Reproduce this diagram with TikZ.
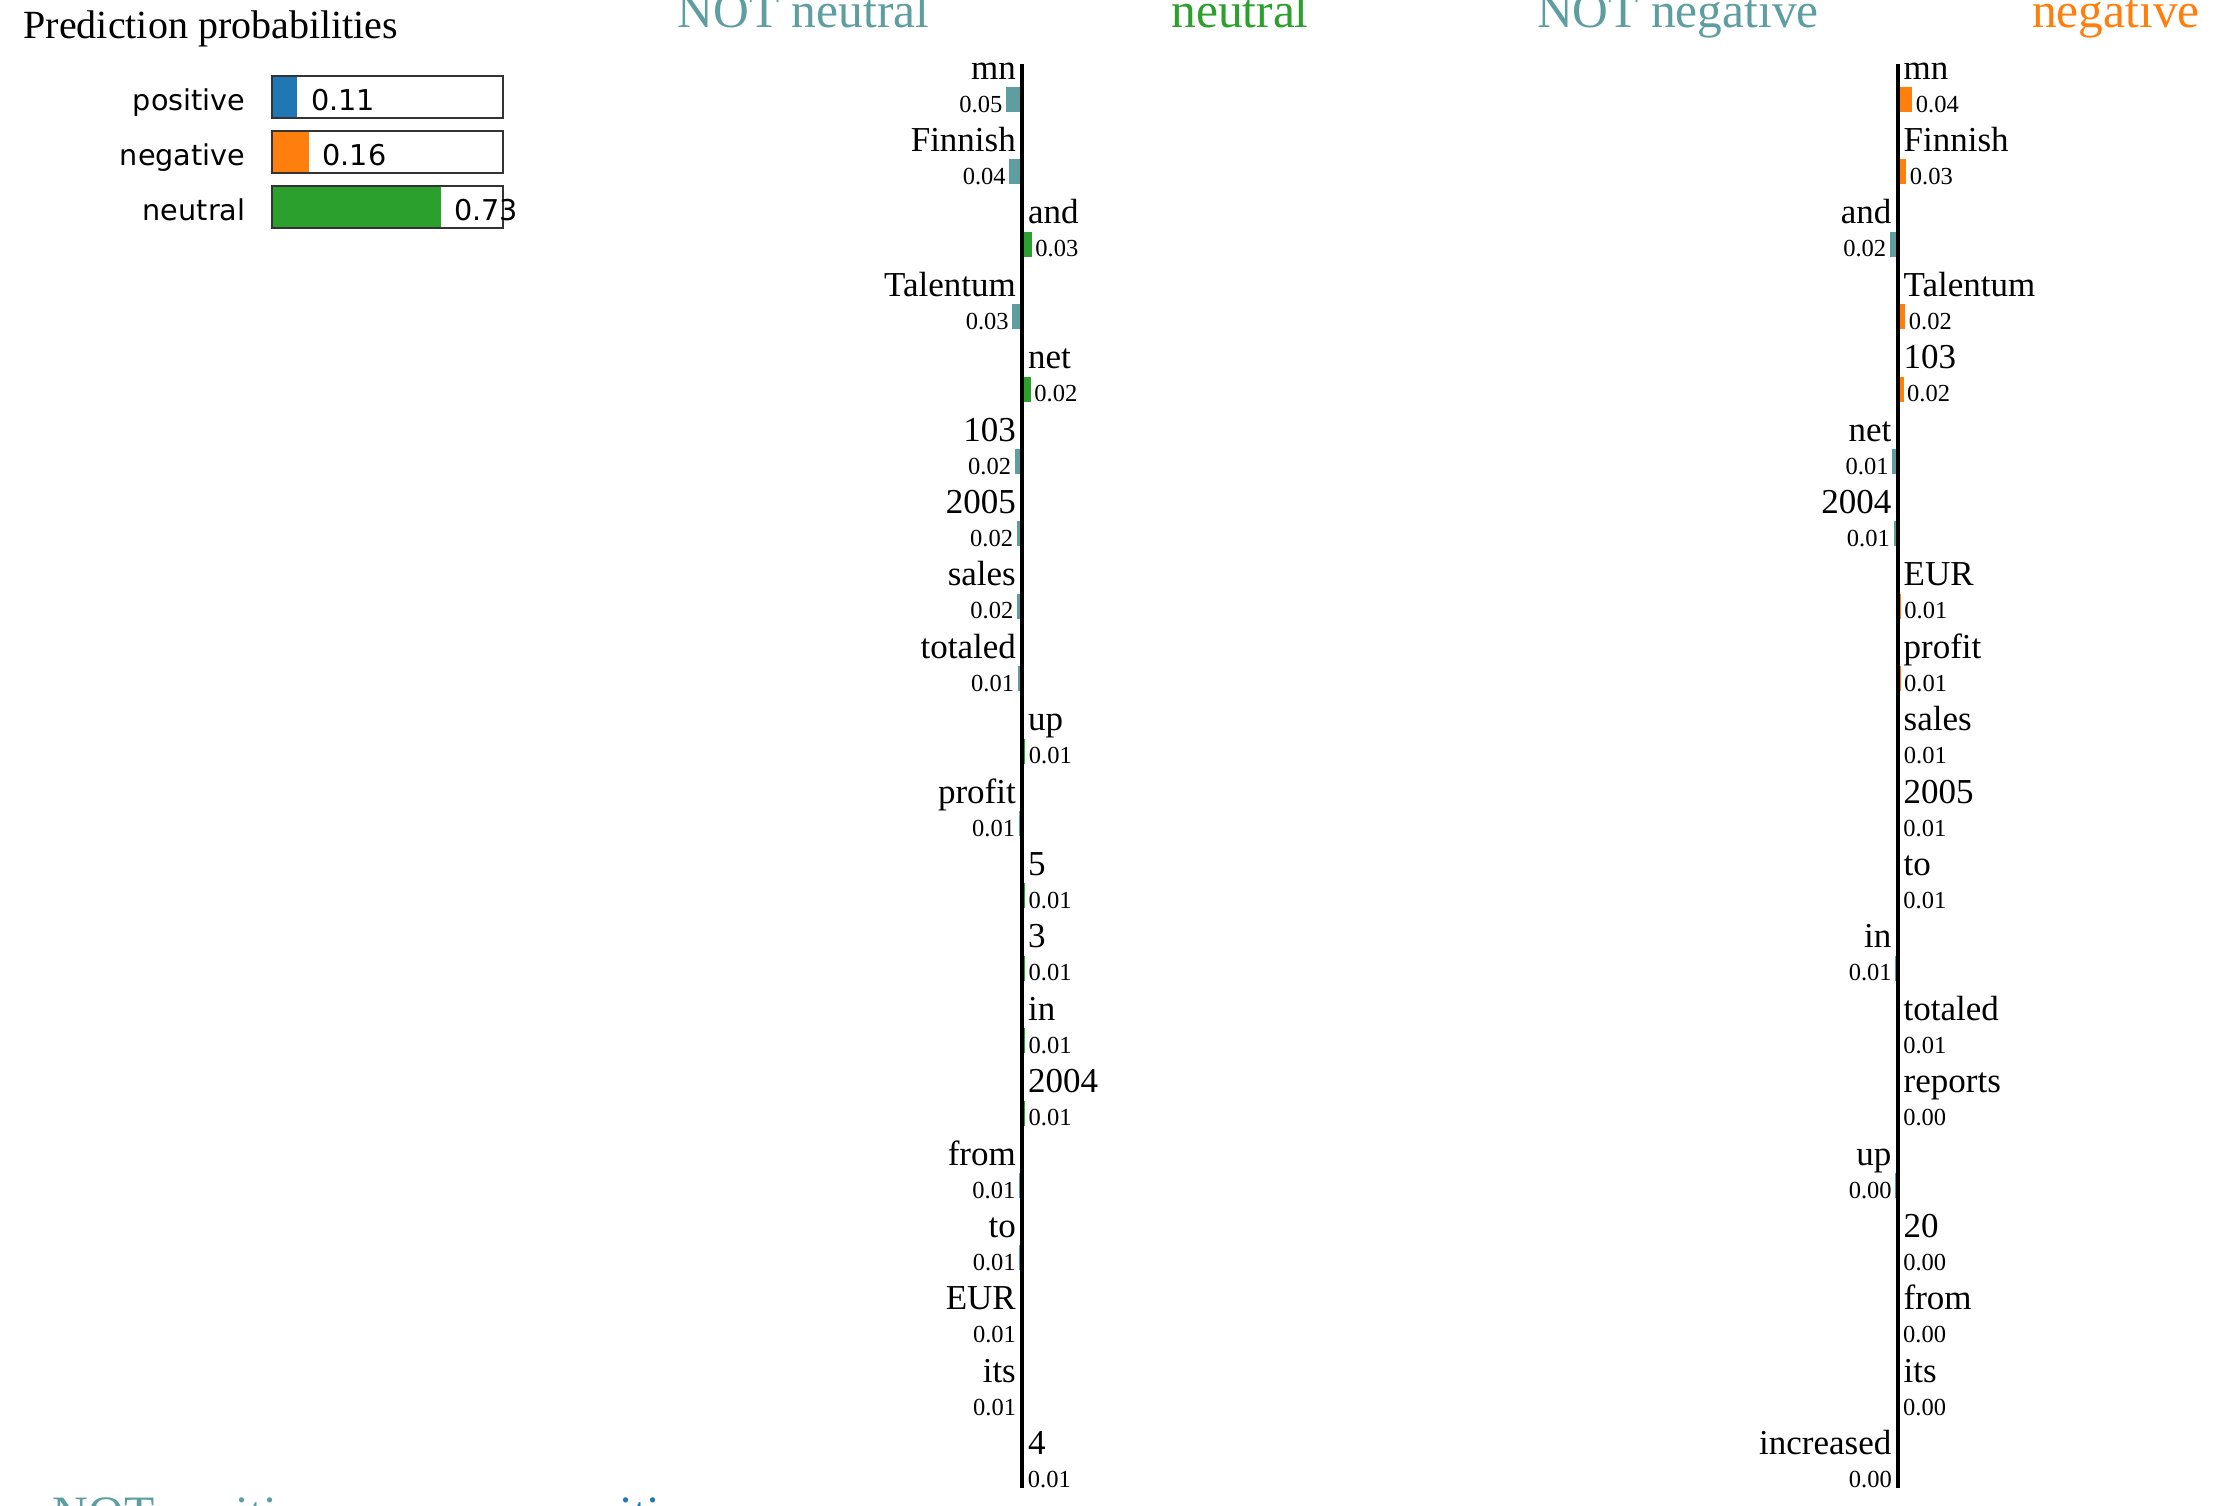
\documentclass[tikz,border=0pt]{standalone}
\usepackage{fontspec}
\setmainfont{Liberation Serif}
\newfontfamily\probfont{DejaVu Sans}
\usetikzlibrary{positioning}
\definecolor{notclr}{HTML}{5F9EA0}
\definecolor{posclr}{HTML}{1F77B4}
\definecolor{negclr}{HTML}{FF7F0E}
\definecolor{neuclr}{HTML}{2CA02C}

\begin{document}
\begin{tikzpicture}[x=0.3pt, y=-0.3pt]
\tikzstyle{head} = [inner sep=0, anchor=base, font=\fontsize{14.85}{16}\selectfont]
\tikzstyle{word} = [inner sep=0, font=\fontsize{10.5}{12}\selectfont]
\tikzstyle{weight} = [inner sep=0, font=\fontsize{7.35}{8}\selectfont]
\tikzstyle{probtext} = [inner sep=0, font=\probfont\fontsize{8.6}{10}\selectfont]
\tikzstyle{probbox} = [draw=black!80, line width=0.8pt]
\tikzstyle{axis} = [line width=1.2pt]
\clip (0,0) rectangle (2230,1505);

% prediction probabilities
\node[anchor=base west, inner sep=0, font=\fontsize{12}{14}\selectfont] (title) at (23,38) {Prediction probabilities};
\foreach \cls/\clr/\p [count=\k from 0] in {positive/posclr/0.11, negative/negclr/0.16, neutral/neuclr/0.73} {
  \pgfmathsetmacro\yt{76+55*\k}
  \pgfmathsetmacro\xf{272+231*\p}
  \fill[\clr] (272,\yt) rectangle (\xf,\yt+42);
  \draw[probbox] (272,\yt) rectangle (503,\yt+42);
  \node[probtext, anchor=base east] (c\k) at (246,\yt+34) {\cls};
  \node[probtext, anchor=base west] (p\k) at (\xf+13,\yt+34) {\p};
}

% headings
\node[head, text=notclr] (notneu) at (803.5,27) {NOT neutral};
\node[head, text=neuclr] (neu) at (1240,27) {neutral};
\node[head, text=notclr] (notneg) at (1678,27) {NOT negative};
\node[head, text=negclr] (neg) at (2116,27) {negative};
\node[head, anchor=base west, text=notclr] (notpos) at (52,1530) {NOT positive};
\node[head, anchor=base west, text=posclr] (pos) at (550,1530) {positive};

% neutral
\foreach \tok/\side/\len/\val [count=\i from 0] in {mn/-1/14/0.05, Finnish/-1/10.7/0.04, and/1/7.7/0.03,
  Talentum/-1/7.7/0.03, net/1/6.7/0.02, 103/-1/5.3/0.02, 2005/-1/3.3/0.02, sales/-1/3/0.02,
  totaled/-1/2.3/0.01, up/1/1.3/0.01, profit/-1/1.3/0.01, 5/1/1/0.01, 3/1/1/0.01, in/1/1/0.01,
  2004/1/1/0.01, from/-1/1/0.01, to/-1/0.7/0.01, EUR/-1/0.4/0.01, its/-1/0.3/0.01, 4/1/0.2/0.01} {
  \pgfmathsetmacro\yw{79+72.4*\i}
  \pgfmathsetmacro\yb{87+72.4*\i}
  \pgfmathsetmacro\ye{112+72.4*\i}
  \pgfmathsetmacro\xb{1022+(\side)*(2+\len)}
  \pgfmathsetmacro\xv{1022+(\side)*(5+\len)}
  \pgfmathsetmacro\xw{1022+(\side)*5.5}
  \ifnum\side<0 \def\anc{base east}\def\barclr{notclr}\else\def\anc{base west}\def\barclr{neuclr}\fi
  \fill[\barclr] (1022,\yb) rectangle (\xb,\ye);
  \node[word, anchor=\anc] (nw\i) at (\xw,\yw) {\tok};
  \node[weight, anchor=\anc] (nv\i) at (\xv,\ye) {\val};
}
\coordinate (ntop) at (1022,64);
\coordinate (nbot) at (1022,1488);
\draw[axis] (ntop) -- (nbot);

% negative
\foreach \tok/\side/\len/\val [count=\i from 0] in {mn/1/12.7/0.04, Finnish/1/6.7/0.03, and/-1/5.7/0.02,
  Talentum/1/5.7/0.02, 103/1/4/0.02, net/-1/3.3/0.01, 2004/-1/2/0.01, EUR/1/1.3/0.01,
  profit/1/1/0.01, sales/1/0.7/0.01, 2005/1/0.3/0.01, to/1/0.2/0.01, in/-1/0.2/0.01,
  totaled/1/0.2/0.01, reports/1/0.1/0.00, up/-1/0.1/0.00, 20/1/0.1/0.00, from/1/0/0.00,
  its/1/0/0.00, increased/-1/0/0.00} {
  \pgfmathsetmacro\yw{79+72.4*\i}
  \pgfmathsetmacro\yb{87+72.4*\i}
  \pgfmathsetmacro\ye{112+72.4*\i}
  \pgfmathsetmacro\xb{1897.5+(\side)*(2+\len)}
  \pgfmathsetmacro\xv{1897.5+(\side)*(5+\len)}
  \pgfmathsetmacro\xw{1897.5+(\side)*5.5}
  \ifnum\side<0 \def\anc{base east}\def\barclr{notclr}\else\def\anc{base west}\def\barclr{negclr}\fi
  \fill[\barclr] (1897.5,\yb) rectangle (\xb,\ye);
  \node[word, anchor=\anc] (gw\i) at (\xw,\yw) {\tok};
  \node[weight, anchor=\anc] (gv\i) at (\xv,\ye) {\val};
}
\coordinate (gtop) at (1897.5,64);
\coordinate (gbot) at (1897.5,1488);
\draw[axis] (gtop) -- (gbot);
\end{tikzpicture}
\end{document}
